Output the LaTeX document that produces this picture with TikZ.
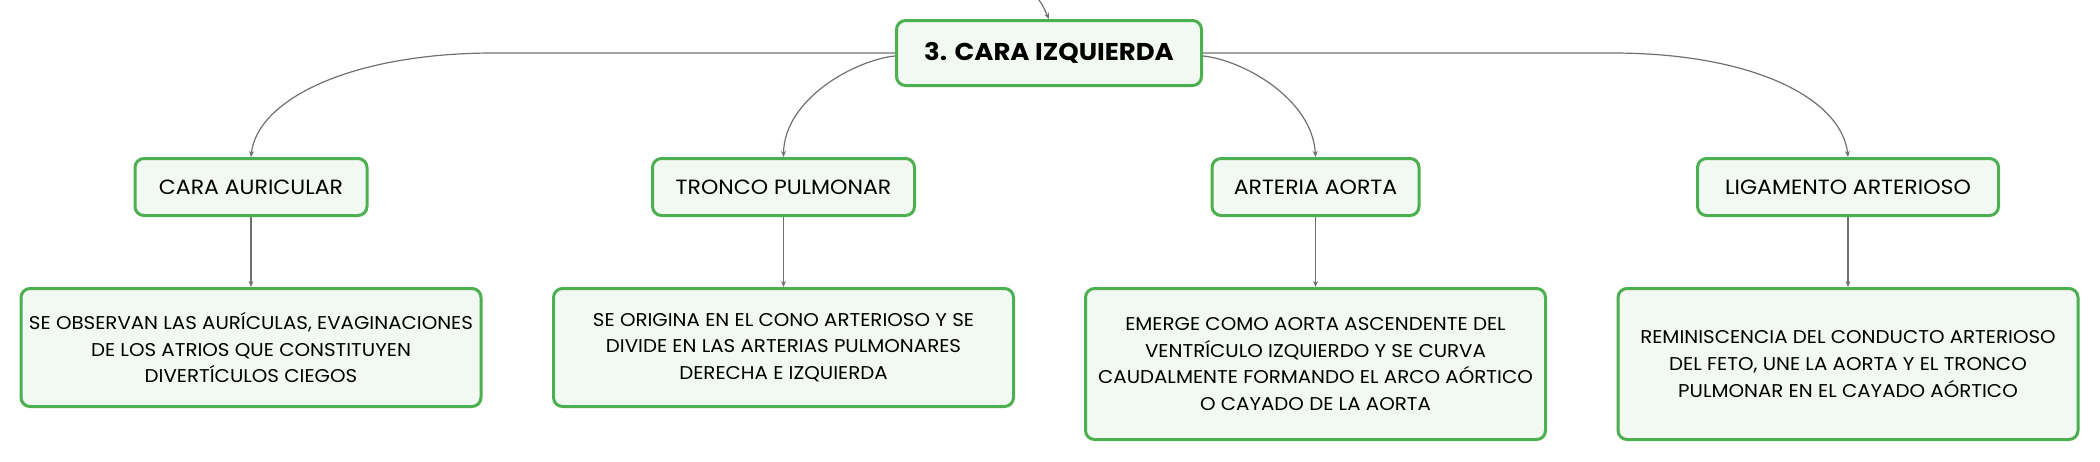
\documentclass[tikz,border=0pt]{standalone}
\usepackage{fontspec}
\setmainfont{Poppins}[FakeStretch=1.07]
\usepackage{tikz}
\usetikzlibrary{arrows.meta}
\definecolor{boxgreen}{HTML}{4CAF50}
\definecolor{boxfill}{HTML}{F1F9F2}
\definecolor{wire}{HTML}{707070}
\tikzset{
  box/.style={draw=boxgreen, fill=boxfill, line width=3pt, rounded corners=9pt, align=center, inner sep=0pt},
  topic/.style={box, font=\bfseries\fontsize{24.3}{28}\selectfont, minimum width=305pt, minimum height=65pt},
  sub/.style={box, font=\fontsize{20.6}{24}\selectfont, minimum height=57pt},
  note/.style={box, font=\fontsize{18.5}{26.7}\selectfont, minimum width=460pt},
  link/.style={draw=wire, line width=1.2pt, -{Stealth[length=6pt,width=5pt]}},
}

\begin{document}
\begin{tikzpicture}[x=1pt,y=-1pt]
    \useasboundingbox (0,0) rectangle (2100,461);

    \node[topic] at (1049,53) (top) {3. CARA IZQUIERDA};
    \coordinate (up) at (1036,-4);

    \node[sub, minimum width=232pt] at (251,187) (ca) {CARA AURICULAR};
    \node[sub, minimum width=262pt] at (783.5,187) (tp) {TRONCO PULMONAR};
    \node[sub, minimum width=207pt] at (1315.5,187) (aa) {ARTERIA AORTA};
    \node[sub, minimum width=301pt] at (1848,187) (la) {LIGAMENTO ARTERIOSO};

    \node[note, minimum height=118pt] at (251,347.5) (dca)
      {SE OBSERVAN LAS AURÍCULAS, EVAGINACIONES\\ DE LOS ATRIOS QUE CONSTITUYEN\\ DIVERTÍCULOS CIEGOS};
    \node[note, minimum height=118pt] at (783.5,347.5) (dtp)
      {SE ORIGINA EN EL CONO ARTERIOSO Y SE\\ DIVIDE EN LAS ARTERIAS PULMONARES\\ DERECHA E IZQUIERDA};
    \node[note, minimum height=151pt] at (1315.5,364) (daa)
      {EMERGE COMO AORTA ASCENDENTE DEL\\ VENTRÍCULO IZQUIERDO Y SE CURVA\\ CAUDALMENTE FORMANDO EL ARCO AÓRTICO\\ O CAYADO DE LA AORTA};
    \node[note, minimum height=151pt] at (1848,364) (dla)
      {REMINISCENCIA DEL CONDUCTO ARTERIOSO\\ DEL FETO, UNE LA AORTA Y EL TRONCO\\ PULMONAR EN EL CAYADO AÓRTICO};

    % branches from the main topic
    \draw[link] (up) .. controls +(6,8) .. (top.north);
    \draw[link] (top.west) -- ++(-401,0) .. controls +(-144,0) and +(6,-57) .. (ca.north);
    \draw[link] ([yshift=-3pt]top.west) .. controls +(-40,4) and +(0.5,-58) .. (tp.north);
    \draw[link] ([yshift=-3pt]top.east) .. controls +(40,4) and +(-3,-58) .. (aa.north);
    \draw[link] (top.east) -- ++(409,0) .. controls +(144,0) and +(-6,-57) .. (la.north);

    \draw[link] (ca) -- (dca);
    \draw[link] (tp) -- (dtp);
    \draw[link] (aa) -- (daa);
    \draw[link] (la) -- (dla);
\end{tikzpicture}
\end{document}
